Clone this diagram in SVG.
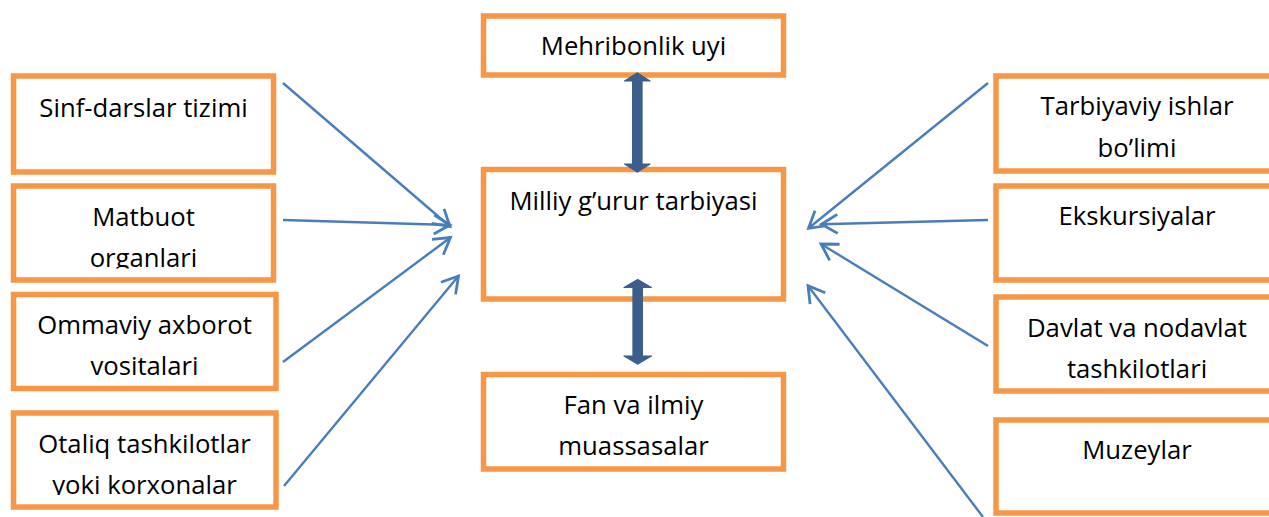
<svg xmlns="http://www.w3.org/2000/svg" width="1269" height="517" viewBox="0 0 1269 517">
<defs>
<style>
.box{fill:#ffffff;stroke:#F79646;stroke-width:5.5}
.t{font-family:"Open Sans","Liberation Sans",sans-serif;font-size:25.7px;fill:#000000;text-anchor:middle}
.ln{fill:none;stroke:#4A7EBB;stroke-width:2.4}
.dbl{fill:#3B5E8C;stroke:#3B5E8C;stroke-width:1;stroke-linejoin:miter}
</style>
<marker id="ah" markerUnits="userSpaceOnUse" markerWidth="40" markerHeight="40" viewBox="-20 -20 40 40" refX="0" refY="0" orient="auto">
<path d="M-16,-9.5 L0,0 L-16,9.5" fill="none" stroke="#4A7EBB" stroke-width="2.8" stroke-linejoin="miter"/>
</marker>
<clipPath id="c2"><rect x="0" y="180" width="290" height="88.5"/></clipPath>
<clipPath id="c4"><rect x="0" y="405" width="290" height="90"/></clipPath>
</defs>
<rect x="0" y="0" width="1269" height="517" fill="#ffffff"/>

<g id="n-sinf"><rect class="box" x="13.5" y="76" width="260" height="96"/><text class="t" x="143.5" y="117">Sinf-darslar tizimi</text></g>
<g id="n-matbuot"><rect class="box" x="13.5" y="186" width="260" height="94"/><g clip-path="url(#c2)"><text class="t" x="143.5" y="226">Matbuot</text><text class="t" x="143.5" y="267">organlari</text></g></g>
<g id="n-ommaviy"><rect class="box" x="13.5" y="294.5" width="262.5" height="94"/><text class="t" x="144.5" y="334">Ommaviy axborot</text><text class="t" x="144.5" y="375">vositalari</text></g>
<g id="n-otaliq"><rect class="box" x="13.5" y="413" width="262.5" height="94"/><g clip-path="url(#c4)"><text class="t" x="144.5" y="453">Otaliq tashkilotlar</text><text class="t" x="144.5" y="494">yoki korxonalar</text></g></g>

<g id="n-mehribonlik"><rect class="box" x="483.5" y="16" width="300" height="59"/><text class="t" x="633.5" y="55">Mehribonlik uyi</text></g>
<g id="n-milliy"><rect class="box" x="483.5" y="169.5" width="300" height="129.5"/><text class="t" x="633.5" y="210">Milliy g’urur tarbiyasi</text></g>
<g id="n-fan"><rect class="box" x="483.5" y="374.5" width="300" height="94.5"/><text class="t" x="633.5" y="414">Fan va ilmiy</text><text class="t" x="633.5" y="455">muassasalar</text></g>

<g id="n-tarbiyaviy"><rect class="box" x="996" y="76" width="320" height="95"/><text class="t" x="1137" y="115">Tarbiyaviy ishlar</text><text class="t" x="1137" y="157">bo’limi</text></g>
<g id="n-ekskursiyalar"><rect class="box" x="996" y="186" width="320" height="94"/><text class="t" x="1137" y="225">Ekskursiyalar</text></g>
<g id="n-davlat"><rect class="box" x="996" y="297" width="320" height="94"/><text class="t" x="1137" y="337">Davlat va nodavlat</text><text class="t" x="1137" y="378">tashkilotlari</text></g>
<g id="n-muzeylar"><rect class="box" x="996" y="420" width="320" height="93"/><text class="t" x="1137" y="459">Muzeylar</text></g>

<g id="connectors">
<polygon class="dbl" points="637.3,72.7 624.3,81 632.5,81 632.5,164 624.3,164 637.3,172.3 650.3,164 642.1,164 642.1,81 650.3,81"/>
<polygon class="dbl" points="637.7,279.3 623.7,287.5 632.9,287.5 632.9,356 623.7,356 637.7,364.3 651.7,356 642.5,356 642.5,287.5 651.7,287.5"/>
<line class="ln" x1="283" y1="83" x2="450" y2="226.5" marker-end="url(#ah)"/>
<line class="ln" x1="283" y1="220" x2="450" y2="225" marker-end="url(#ah)"/>
<line class="ln" x1="283" y1="362" x2="450.5" y2="237.5" marker-end="url(#ah)"/>
<line class="ln" x1="284" y1="486" x2="458.5" y2="276" marker-end="url(#ah)"/>
<line class="ln" x1="988" y1="83" x2="808.5" y2="228.3" marker-end="url(#ah)"/>
<line class="ln" x1="988" y1="220" x2="821.5" y2="224.3" marker-end="url(#ah)"/>
<line class="ln" x1="988" y1="346" x2="821" y2="244" marker-end="url(#ah)"/>
<line class="ln" x1="983" y1="517" x2="808" y2="285.7" marker-end="url(#ah)"/>
</g>
</svg>
